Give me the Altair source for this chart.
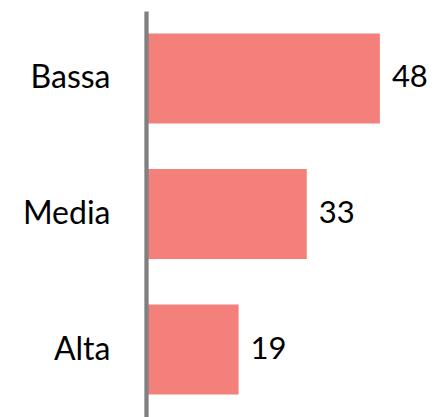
import altair as alt
import pandas as pd

categories = ["Bassa", "Media", "Alta"]
values = [48, 33, 19]

df = pd.DataFrame({"cat": categories, "val": values})

y_enc = alt.Y(
    "cat:N",
    sort=categories,
    title=None,
    scale=alt.Scale(paddingInner=0.3358, paddingOuter=0.166, align=0.5),
    axis=alt.Axis(
        ticks=False,
        tickSize=0,
        domain=True,
        domainColor="#808080",
        domainWidth=4.3,
        labelFont="Lato",
        labelFontSize=32,
        labelColor="#000000",
        labelPadding=36,
        zindex=1,
    ),
)
x_enc = alt.X("val:Q", scale=alt.Scale(domain=[0, 55], nice=False, zero=True), axis=None)

bars = alt.Chart(df).mark_bar(color="#F3807A").encode(x=x_enc, y=y_enc)
labels = alt.Chart(df).mark_text(
    align="left", baseline="middle", dx=12, font="Lato", fontSize=31, color="#000000"
).encode(x=x_enc, y=alt.Y("cat:N", sort=categories), text="val:Q")

chart = (
    alt.layer(bars, labels)
    .properties(
        width=268,
        height=406,
        padding={"left": 138, "top": 3, "right": 15, "bottom": 0},
        autosize=alt.AutoSizeParams(type="none"),
    )
    .configure(background="white", view=alt.ViewConfig(stroke=None))
)

chart.save("out.html", embed_options={"renderer": "svg", "actions": False})
